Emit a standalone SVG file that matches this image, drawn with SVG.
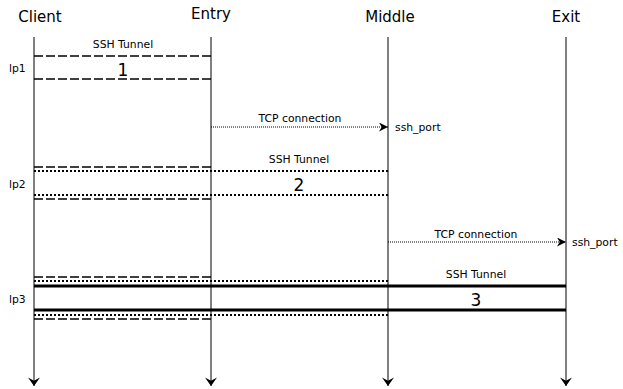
<svg xmlns="http://www.w3.org/2000/svg" width="623" height="389" viewBox="0 0 623 389">
<defs>
<marker id="ah" viewBox="0 0 10 10" refX="10" refY="5" markerWidth="10" markerHeight="9" markerUnits="userSpaceOnUse" orient="auto">
<path d="M0,0 L10,5 L0,10 L3,5 Z" fill="#000"/>
</marker>
<marker id="ahl" viewBox="0 0 10 14" refX="10" refY="7" markerWidth="12" markerHeight="12" markerUnits="userSpaceOnUse" orient="auto">
<path d="M0,0 L10,7 L0,14 L4,7 Z" fill="#000"/>
</marker>
<style>
text{font-family:"DejaVu Sans",sans-serif;fill:#000}
.hdr{font-size:15px;text-anchor:middle}
.sm{font-size:10.8px;text-anchor:middle}
.lp{font-size:10.8px}
.num{font-size:17px;text-anchor:middle}
.life{stroke:#000;stroke-width:1;fill:none}
.dash{stroke:#000;stroke-width:1.6;stroke-dasharray:9 3;fill:none}
.dot{stroke:#000;stroke-width:2;stroke-dasharray:2 2;fill:none}
.solid{stroke:#000;stroke-width:3;fill:none}
.tcp{stroke:#000;stroke-width:1;stroke-dasharray:1 1;fill:none}
</style>
</defs>
<g id="client"><text class="hdr" x="40" y="22">Client</text></g>
<g id="entry"><text class="hdr" x="211" y="19">Entry</text></g>
<g id="middle"><text class="hdr" x="390" y="22">Middle</text></g>
<g id="exit"><text class="hdr" x="566" y="22">Exit</text></g>
<g id="labels">
<text class="lp" x="9" y="72">lp1</text>
<text class="lp" x="9" y="188">lp2</text>
<text class="lp" x="9" y="303">lp3</text>
<text class="sm" x="123" y="48">SSH Tunnel</text>
<text class="num" x="123" y="76">1</text>
<text class="sm" x="300" y="122">TCP connection</text>
<text class="lp" x="395" y="131">ssh_port</text>
<text class="sm" x="299" y="163">SSH Tunnel</text>
<text class="num" x="299" y="191">2</text>
<text class="sm" x="476" y="238">TCP connection</text>
<text class="lp" x="572" y="246">ssh_port</text>
<text class="sm" x="476" y="278">SSH Tunnel</text>
<text class="num" x="476" y="306">3</text>
</g>
<g id="connectors">
<line class="life" x1="34" y1="37" x2="34" y2="386" marker-end="url(#ahl)"/>
<line class="life" x1="211" y1="37" x2="211" y2="386" marker-end="url(#ahl)"/>
<line class="life" x1="388" y1="37" x2="388" y2="386" marker-end="url(#ahl)"/>
<line class="life" x1="566" y1="37" x2="566" y2="386" marker-end="url(#ahl)"/>
<line class="dash" x1="34" y1="56" x2="211" y2="56"/>
<line class="dash" x1="34" y1="79" x2="211" y2="79"/>
<line class="tcp" x1="211" y1="127" x2="388" y2="127" marker-end="url(#ah)"/>
<line class="dash" x1="34" y1="167" x2="211" y2="167"/>
<line class="dot" x1="34" y1="171" x2="388" y2="171"/>
<line class="dot" x1="34" y1="195" x2="388" y2="195"/>
<line class="dash" x1="34" y1="199" x2="211" y2="199"/>
<line class="tcp" x1="388" y1="242" x2="566" y2="242" marker-end="url(#ah)"/>
<line class="dash" x1="34" y1="277" x2="211" y2="277"/>
<line class="dot" x1="34" y1="281" x2="388" y2="281"/>
<line class="solid" x1="34" y1="286" x2="566" y2="286"/>
<line class="solid" x1="34" y1="310" x2="566" y2="310"/>
<line class="dot" x1="34" y1="315" x2="388" y2="315"/>
<line class="dash" x1="34" y1="319" x2="211" y2="319"/>
</g>
</svg>
